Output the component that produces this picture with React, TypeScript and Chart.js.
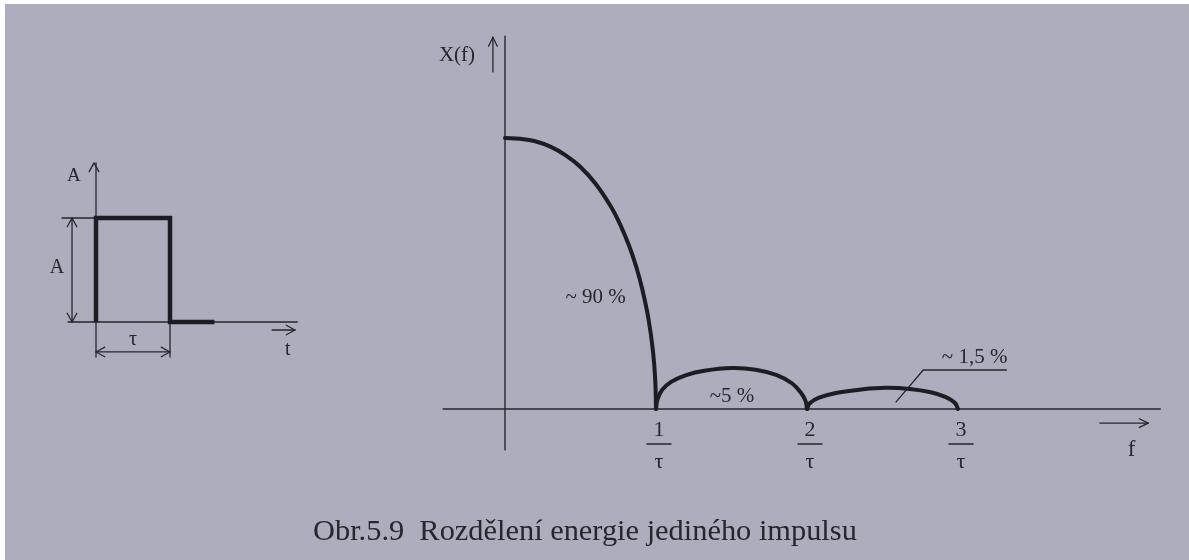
import { useEffect, useRef } from "react";
import { Chart, registerables } from "chart.js";

Chart.register(...registerables);

// Spectrum |X(f)|: f in multiples of 1/τ, amplitude relative to X(0)
const mainLobeF = [0, 0.1, 0.2, 0.3, 0.4, 0.5, 0.6, 0.7, 0.76, 0.82, 0.87, 0.91, 0.95, 0.98, 0.995, 1.0];
const mainLobeX = [1.0, 0.997, 0.988, 0.968, 0.937, 0.893, 0.831, 0.748, 0.684, 0.605, 0.523, 0.44, 0.333, 0.213, 0.107, 0];

const sideLobe1F = [1.0, 1.01, 1.04, 1.1, 1.2, 1.32, 1.5, 1.66, 1.8, 1.9, 1.96, 1.99, 2.0];
const sideLobe1X = [0, 0.035, 0.07, 0.1, 0.125, 0.141, 0.151, 0.145, 0.125, 0.095, 0.06, 0.03, 0];

const sideLobe2F = [2.0, 2.02, 2.08, 2.2, 2.36, 2.52, 2.68, 2.82, 2.92, 2.98, 3.0];
const sideLobe2X = [0, 0.022, 0.042, 0.06, 0.072, 0.078, 0.074, 0.062, 0.044, 0.022, 0];

// Rectangular pulse: time in units of τ, amplitude in units of A
const pulseT = [0, 0, 1, 1, 1.6];
const pulseA = [0, 1, 1, 0, 0];

// Texts
const tickValues = [1, 2, 3];
const tickNumerators = ["1", "2", "3"];
const tickDenominator = "τ";
const energyLabels = ["~ 90 %", "~5 %", "~ 1,5 %"];
const spectrumAxisTitle = "X(f)";
const freqAxisTitle = "f";
const pulseAxisTitle = "A";
const pulseTimeTitle = "t";
const pulseWidthLabel = "τ";
const caption = "Obr.5.9  Rozdělení energie jediného impulsu";

const W = 1189;
const H = 560;
const INK = "#26262d";
const CURVE = "#1c1c22";
const PAPER = "#aeadbd";
const SERIF = '"Liberation Serif", "DejaVu Serif", serif';

const pts = (xs: number[], ys: number[]) => xs.map((v, i) => ({ x: v, y: ys[i] }));

function seg(ctx: CanvasRenderingContext2D, x1: number, y1: number, x2: number, y2: number, w = 1.3) {
  ctx.lineWidth = w;
  ctx.beginPath();
  ctx.moveTo(x1, y1);
  ctx.lineTo(x2, y2);
  ctx.stroke();
}

// open chevron arrowhead with its tip at (x, y), pointing along angle
function head(ctx: CanvasRenderingContext2D, x: number, y: number, angle: number, len = 9, spread = 0.42, w = 1.3) {
  ctx.lineWidth = w;
  ctx.beginPath();
  ctx.moveTo(x - len * Math.cos(angle - spread), y - len * Math.sin(angle - spread));
  ctx.lineTo(x, y);
  ctx.lineTo(x - len * Math.cos(angle + spread), y - len * Math.sin(angle + spread));
  ctx.stroke();
}

function text(ctx: CanvasRenderingContext2D, s: string, x: number, y: number, size: number, align: CanvasTextAlign = "center") {
  ctx.font = `${size}px ${SERIF}`;
  ctx.textAlign = align;
  ctx.textBaseline = "middle";
  ctx.fillText(s, x, y);
}

const decorations = {
  id: "decorations",
  beforeDatasetsDraw(chart: any) {
    const { ctx } = chart;
    const { x, y, tx, ty } = chart.scales;
    const px = (v: number) => x.getPixelForValue(v);
    const py = (v: number) => y.getPixelForValue(v);
    const qx = (v: number) => tx.getPixelForValue(v);
    const qy = (v: number) => ty.getPixelForValue(v);
    ctx.save();
    ctx.strokeStyle = INK;
    ctx.fillStyle = INK;
    ctx.lineCap = "round";
    ctx.lineJoin = "round";

    // spectrum axes
    seg(ctx, px(-0.41), py(0), px(4.34), py(0), 1.4);
    seg(ctx, px(0), py(1.376), px(0), py(-0.151), 1.4);
    // X(f) arrow
    seg(ctx, px(-0.08), py(1.244), px(-0.08), py(1.372), 1.3);
    head(ctx, px(-0.08), py(1.372), -Math.PI / 2, 10, 0.45);
    // f arrow
    seg(ctx, px(3.94), py(-0.052), px(4.26), py(-0.052), 1.3);
    head(ctx, px(4.26), py(-0.052), 0, 10, 0.45);

    // pulse axes
    seg(ctx, qx(0), qy(1.53), qx(0), qy(-0.337), 1.3);
    head(ctx, qx(0) - 2, qy(1.53), -Math.PI / 2, 10, 0.5);
    seg(ctx, qx(-0.378), qy(0), qx(2.72), qy(0), 1.3);
    seg(ctx, qx(2.38), qy(-0.077), qx(2.69), qy(-0.077), 1.3);
    head(ctx, qx(2.69), qy(-0.077), 0, 10, 0.5);
    // amplitude dimension
    seg(ctx, qx(-0.46), qy(1), qx(0), qy(1), 1.3);
    seg(ctx, qx(-0.324), qy(1), qx(-0.324), qy(0), 1.3);
    head(ctx, qx(-0.324), qy(1), -Math.PI / 2, 10, 0.5);
    head(ctx, qx(-0.324), qy(0), Math.PI / 2, 10, 0.5);
    // width dimension
    seg(ctx, qx(1), qy(0), qx(1), qy(-0.337), 1.3);
    seg(ctx, qx(0), qy(-0.288), qx(1), qy(-0.288), 1.3);
    head(ctx, qx(0), qy(-0.288), Math.PI, 10, 0.5);
    head(ctx, qx(1), qy(-0.288), 0, 10, 0.5);
    ctx.restore();
  },
  afterDatasetsDraw(chart: any) {
    const { ctx } = chart;
    const { x, y, tx, ty } = chart.scales;
    const px = (v: number) => x.getPixelForValue(v);
    const py = (v: number) => y.getPixelForValue(v);
    const qx = (v: number) => tx.getPixelForValue(v);
    const qy = (v: number) => ty.getPixelForValue(v);
    ctx.save();
    ctx.strokeStyle = INK;
    ctx.fillStyle = INK;
    ctx.lineCap = "round";

    // tick fractions k/τ under the frequency axis
    const base = py(0);
    tickValues.forEach((v, i) => {
      const cx = px(v) + 3;
      text(ctx, tickNumerators[i], cx, base + 21, 22);
      seg(ctx, cx - 12, base + 35, cx + 12, base + 35, 1.5);
      text(ctx, tickDenominator, cx, base + 53, 22);
    });

    text(ctx, spectrumAxisTitle, px(-0.318), py(1.306), 21);
    text(ctx, freqAxisTitle, px(4.15), py(-0.151), 23);

    // energy share of each lobe
    text(ctx, energyLabels[0], px(0.6), py(0.41), 21);
    text(ctx, energyLabels[1], px(1.503), py(0.048), 21);
    text(ctx, energyLabels[2], px(3.11), py(0.19), 21);
    seg(ctx, px(2.77), py(0.144), px(3.32), py(0.144), 1.3);
    seg(ctx, px(2.77), py(0.144), px(2.59), py(0.026), 1.3);

    // pulse labels
    text(ctx, pulseAxisTitle, qx(-0.3), qy(1.404), 19);
    text(ctx, pulseAxisTitle, qx(-0.527), qy(0.519), 20);
    text(ctx, pulseTimeTitle, qx(2.59), qy(-0.269), 20);
    text(ctx, pulseWidthLabel, qx(0.5), qy(-0.173), 20);

    // caption
    ctx.font = `30.4px ${SERIF}`;
    ctx.textAlign = "left";
    ctx.textBaseline = "alphabetic";
    ctx.fillText(caption, 313, 540);
    ctx.restore();
  },
};

export default function App() {
  const ref = useRef<HTMLCanvasElement | null>(null);

  useEffect(() => {
    document.body.style.margin = "0";
    if (!ref.current) return;
    const curve = {
      showLine: true,
      fill: false,
      pointRadius: 0,
      borderColor: CURVE,
      borderWidth: 4,
      borderCapStyle: "round" as const,
      borderJoinStyle: "round" as const,
      tension: 0.4,
    };
    const chart = new Chart(ref.current, {
      type: "line",
      data: {
        datasets: [
          { ...curve, label: "main", data: pts(mainLobeF, mainLobeX), xAxisID: "x", yAxisID: "y" },
          { ...curve, label: "side1", data: pts(sideLobe1F, sideLobe1X), xAxisID: "x", yAxisID: "y" },
          { ...curve, label: "side2", data: pts(sideLobe2F, sideLobe2X), xAxisID: "x", yAxisID: "y" },
          {
            ...curve,
            label: "pulse",
            data: pts(pulseT, pulseA),
            xAxisID: "tx",
            yAxisID: "ty",
            tension: 0,
            borderWidth: 4.5,
            borderCapStyle: "butt" as const,
            borderJoinStyle: "miter" as const,
          },
        ],
      },
      options: {
        animation: false,
        responsive: false,
        maintainAspectRatio: false,
        layout: { padding: 0 },
        parsing: false as any,
        plugins: { legend: { display: false }, tooltip: { enabled: false } },
        scales: {
          x: { type: "linear", display: false, min: -505 / 151, max: (W - 505) / 151 },
          y: { type: "linear", display: false, min: -(H - 409) / 271, max: 409 / 271 },
          tx: { type: "linear", axis: "x", display: false, min: -96 / 74, max: (W - 96) / 74 },
          ty: { type: "linear", axis: "y", display: false, min: -(H - 322) / 104, max: 322 / 104 },
        },
      },
      plugins: [decorations],
    } as any);
    return () => chart.destroy();
  }, []);

  return (
    <div style={{ position: "relative", width: W, height: H, background: "#ffffff", overflow: "hidden" }}>
      <div style={{ position: "absolute", left: 5, top: 4, right: 0, bottom: 0, background: PAPER }} />
      <canvas ref={ref} width={W} height={H} style={{ position: "absolute", left: 0, top: 0, display: "block" }} />
    </div>
  );
}
